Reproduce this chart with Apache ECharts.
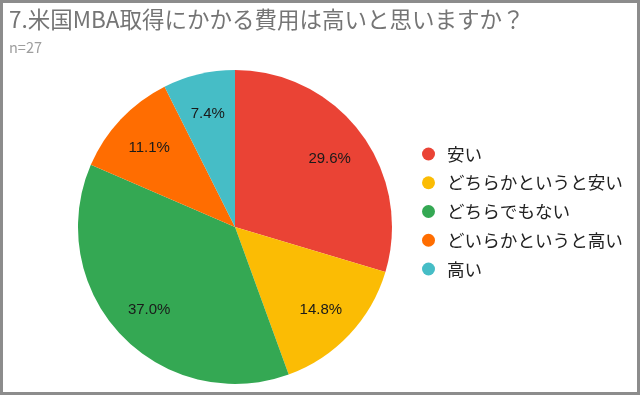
<!DOCTYPE html>
<html><head><meta charset="utf-8">
<script src="https://cdn.jsdelivr.net/npm/echarts@6/dist/echarts.min.js"></script>
<style>html,body{margin:0;padding:0;background:#fff}#c{width:640px;height:395px;box-sizing:border-box;border:3px solid #8c8c8c}</style>
</head><body><div id="c"></div>
<script>
const titleText = '7.米国MBA取得にかかる費用は高いと思いますか？';
const subText = 'n=27';
const categories = ['安い','どちらかというと安い','どちらでもない','どいらかというと高い','高い'];
const counts = [8, 4, 10, 3, 2];
const colors = ['#EA4335','#FBBC04','#34A853','#FF6D01','#46BDC6'];
const data = categories.map((n,i)=>({name:n, value:counts[i]}));
const total = counts.reduce((a,b)=>a+b,0);
const chart = echarts.init(document.getElementById('c'));
const font = '"Noto Sans CJK JP", Roboto, Arial, sans-serif';
chart.setOption({
  animation:false,
  color: colors,
  title:{text:titleText, subtext:subText, left:1, top:0, itemGap:10,
    textStyle:{fontFamily:font, fontSize:22.5, fontWeight:'normal', color:'#757575'},
    subtextStyle:{fontFamily:font, fontSize:14.5, color:'#9e9e9e'}},
  legend:{orient:'vertical', left:414, top:137, icon:'circle', itemWidth:13, itemHeight:13, itemGap:10.75,
    data: categories,
    textStyle:{fontFamily:font, fontSize:17.6, color:'#222', lineHeight:18, padding:[0,0,0,7]}},
  series:[
    {type:'pie', center:[232,224], radius:157, startAngle:90, clockwise:true, data:data,
      label:{show:false}, labelLine:{show:false}, itemStyle:{borderWidth:0}, silent:true},
    {type:'pie', center:[232,224], radius:[73,157], startAngle:90, clockwise:true, data:data,
      itemStyle:{color:'rgba(0,0,0,0)'}, silent:true, legendHoverLink:false,
      label:{show:true, position:'inside', fontFamily:'Arial, "Liberation Sans", sans-serif', fontSize:15, color:'#1a1a1a', offset:[0,2],
        formatter:p=>(p.value/total*100).toFixed(1)+'%'},
      labelLine:{show:false}}
  ]
});
</script></body></html>
